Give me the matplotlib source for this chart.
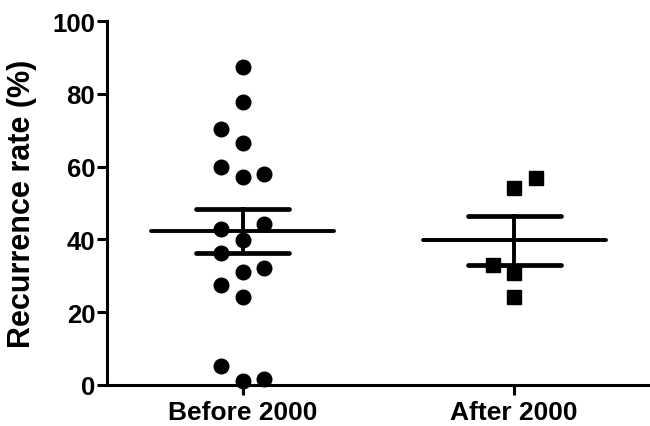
import matplotlib
matplotlib.use("Agg")
import matplotlib.pyplot as plt
import numpy as np

categories = ["Before 2000", "After 2000"]
before_values = [87.3, 77.7, 70.3, 66.4, 60.0, 58.0, 57.1, 44.2, 42.9, 39.9,
                 36.3, 32.1, 31.0, 27.6, 24.1, 5.3, 1.2, 1.6]
after_values = [56.9, 54.1, 33.0, 30.8, 24.1]
means = [42.3, 39.8]
sems = [6.0, 6.7]
y_ticks = [0, 20, 40, 60, 80, 100]

# layout (column slot of each point in the scatter)
before_slot = [0, 0, -1, 0, -1, 1, 0, 1, -1, 0, -1, 1, 0, -1, 0, -1, 0, 1]
after_slot = [1, 0, -1, 0, 0]
slot_w = 0.08

plt.rcParams['font.family'] = ['Liberation Sans', 'DejaVu Sans']
plt.rcParams['font.weight'] = 'bold'

fig = plt.figure(figsize=(6.5, 4.27), dpi=100)
ax = fig.add_axes([107/650, 41/427, 543/650, 364/427])

ax.plot(np.array(before_slot) * slot_w + 0, before_values, 'o', color='black',
        markersize=10.5, clip_on=False, zorder=4)
ax.plot(np.array(after_slot) * slot_w + 1, after_values, 's', color='black',
        markersize=10.5, clip_on=False, zorder=4)

lw = 2.8
for i, (m, s) in enumerate(zip(means, sems)):
    ax.plot([i - 0.337, i + 0.337], [m, m], color='black', lw=lw, solid_capstyle='round', zorder=3)
    ax.plot([i - 0.172, i + 0.172], [m + s, m + s], color='black', lw=lw + 0.6, solid_capstyle='round', zorder=3)
    ax.plot([i - 0.172, i + 0.172], [m - s, m - s], color='black', lw=lw + 0.6, solid_capstyle='round', zorder=3)
    ax.plot([i, i], [m - s, m + s], color='black', lw=lw, zorder=3)

ax.set_xlim(-0.5, 1.5)
ax.set_ylim(0, 100)
ax.set_xticks([0, 1])
ax.set_xticklabels(categories, fontsize=19, fontweight='bold')
ax.set_yticks(y_ticks)
ax.set_yticklabels([str(t) for t in y_ticks], fontsize=18.5, fontweight='bold')
ax.set_ylabel("Recurrence rate (%)", fontsize=22, fontweight='bold')
ax.yaxis.set_label_coords(-0.129, 0.5)

for side in ['top', 'right']:
    ax.spines[side].set_visible(False)
for side in ['left', 'bottom']:
    ax.spines[side].set_linewidth(2.2)
ax.tick_params(axis='both', width=2.2, length=7.5)
ax.tick_params(axis='y', pad=1)
ax.tick_params(axis='x', pad=3)

fig.savefig("out.png", dpi=100)
